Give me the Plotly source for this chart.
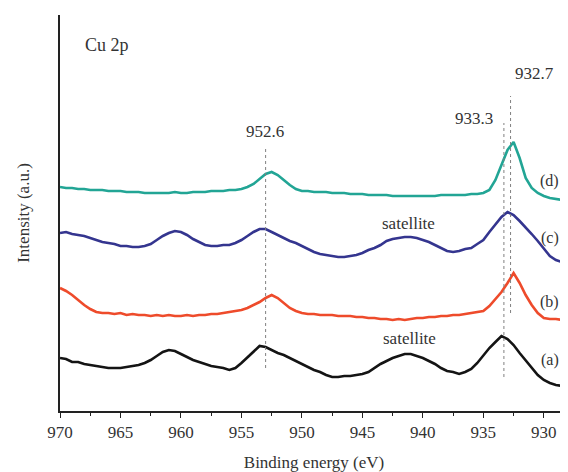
import plotly.graph_objects as go

energy = [970.0 - 0.5 * i for i in range(85)]

# intensities (arbitrary units, offset stacked)
spec_a = [358, 359, 362, 362, 364, 365, 366, 367, 368, 368, 368, 367, 366, 365, 363, 360, 356, 352, 350, 351,
          354, 357, 360, 362, 364, 366, 367, 368, 370, 368, 363, 357, 351, 346, 347, 350, 353, 355, 358, 361,
          364, 367, 370, 372, 375, 377, 377, 376, 376, 375, 374, 372, 368, 364, 361, 358, 356, 354, 354, 356,
          358, 361, 364, 368, 371, 372, 374, 372, 369, 363, 355, 348, 342, 336, 339, 345, 353, 360, 368, 375,
          380, 383, 385, 386, 387]
spec_b = [288, 291, 295, 300, 305, 309, 312, 313, 313, 314, 313, 315, 314, 315, 315, 316, 315, 316, 315, 316,
          316, 315, 316, 315, 315, 314, 314, 313, 312, 311, 310, 308, 305, 302, 298, 295, 298, 303, 308, 311,
          313, 314, 314, 315, 315, 315, 316, 316, 316, 317, 317, 318, 318, 319, 319, 320, 319, 320, 319, 318,
          318, 317, 317, 316, 316, 315, 315, 314, 313, 312, 311, 306, 299, 292, 283, 273, 283, 295, 305, 313,
          318, 319, 319, 320, 320]
spec_c = [233, 232, 234, 235, 236, 238, 240, 242, 243, 244, 246, 246, 247, 247, 246, 244, 240, 236, 233, 231,
          232, 235, 239, 242, 245, 246, 246, 245, 245, 243, 240, 236, 232, 229, 229, 232, 235, 238, 241, 243,
          246, 249, 252, 254, 255, 256, 257, 257, 256, 255, 253, 250, 248, 245, 241, 239, 238, 237, 237, 238,
          240, 242, 245, 248, 251, 252, 251, 249, 248, 244, 240, 232, 225, 217, 212, 215, 221, 227, 234, 241,
          248, 256, 260, 262, 262]
spec_d = [187, 188, 188, 189, 189, 190, 190, 190, 191, 191, 191, 192, 192, 192, 193, 193, 193, 193, 193, 192,
          193, 193, 192, 192, 192, 191, 191, 191, 190, 190, 189, 187, 184, 179, 174, 172, 175, 180, 185, 189,
          191, 191, 192, 192, 192, 193, 193, 193, 194, 194, 194, 195, 195, 195, 195, 196, 196, 196, 196, 196,
          196, 196, 196, 195, 195, 195, 195, 195, 194, 194, 193, 190, 180, 165, 150, 142, 158, 178, 188, 193,
          196, 198, 199, 200, 200]

series = [("(a)", spec_a, "#141414"), ("(b)", spec_b, "#ee4b2b"),
          ("(c)", spec_c, "#34358f"), ("(d)", spec_d, "#22a595")]

fig = go.Figure()
for name, vals, col in series:
    fig.add_trace(go.Scatter(x=energy, y=[411 - v for v in vals], mode="lines", name=name,
                             line=dict(color=col, width=2.6), showlegend=False))

# dashed reference lines
for xv, y0, y1 in [(953.0, 43, 263), (933.3, 34, 288), (932.75, 98, 315)]:
    fig.add_shape(type="line", x0=xv, x1=xv, y0=y0, y1=y1, xref="x", yref="y",
                  line=dict(color="#808080", width=1, dash="3px,3px"))

fam = "Liberation Serif, Times New Roman, serif"
font = dict(family=fam, size=17, color="#333333")
notes = [("Cu 2p", 968.1, 366, "left", 18), ("952.6", 953.05, 280, "center", 17),
         ("933.3", 935.8, 293, "center", 17), ("932.7", 930.75, 338, "center", 17),
         ("(d)", 929.5, 230, "center", 16), ("(c)", 929.5, 173, "center", 16),
         ("(b)", 929.5, 109, "center", 16), ("(a)", 929.5, 51, "center", 16),
         ("satellite", 941.2, 188, "center", 17), ("satellite", 941.1, 73, "center", 17)]
for t, xv, yv, anc, sz in notes:
    fig.add_annotation(x=xv, y=yv, text=t, showarrow=False, xanchor=anc, yanchor="middle",
                       font=dict(family=fam, size=sz, color="#333333"))

fig.update_layout(
    width=560, height=464, margin=dict(l=52, r=0, t=7, b=61),
    paper_bgcolor="white", plot_bgcolor="white",
    font=font,
    xaxis=dict(range=[970, 928], autorange=False, tick0=970, dtick=5, ticks="outside", ticklen=5,
               tickcolor="#222", showline=True, linecolor="#222", linewidth=1.5, showgrid=False,
               zeroline=False, tickfont=font,
               minor=dict(dtick=2.5, tick0=970, ticks="outside", ticklen=3, tickcolor="#222"),
               title=dict(text="Binding energy (eV)", font=font, standoff=15)),
    yaxis=dict(range=[0, 396], autorange=False, showticklabels=False, ticks="", showline=True,
               linecolor="#222", linewidth=1.5, showgrid=False, zeroline=False,
               title=dict(text="Intensity (a.u.)", font=font, standoff=24)),
)

fig.write_html("out.html")
